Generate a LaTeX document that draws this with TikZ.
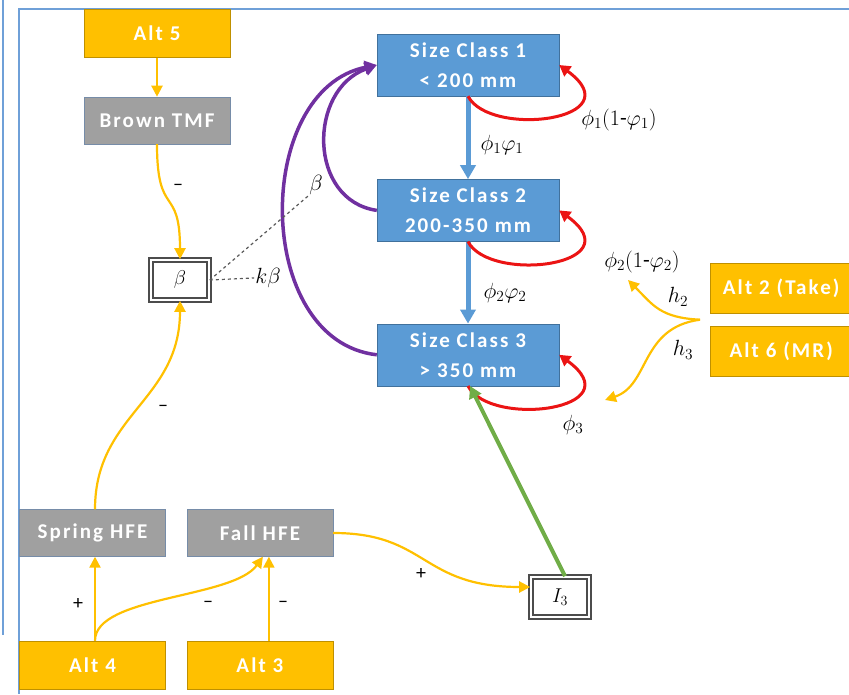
\RequirePackage{fix-cm}
\documentclass[tikz,border=0pt]{standalone}
\usepackage{fontspec}
\setmainfont{Carlito}
\newfontfamily\boxfam[LetterSpace=10]{Carlito}
\usetikzlibrary{positioning,arrows.meta,calc}
\definecolor{altfill}{RGB}{255,192,0}
\definecolor{altline}{RGB}{191,144,0}
\definecolor{tmffill}{RGB}{160,160,160}
\definecolor{tmfline}{RGB}{118,140,168}
\definecolor{scfill}{RGB}{91,155,213}
\definecolor{scline}{RGB}{65,113,156}
\definecolor{loopred}{RGB}{235,20,20}
\definecolor{recruit}{RGB}{112,48,160}
\definecolor{stock}{RGB}{112,173,71}
\definecolor{framec}{RGB}{111,160,216}
\tikzset{
  alt/.style={draw=altline, fill=altfill, text=white, font=\boxfam\bfseries\fontsize{21}{28}\selectfont, minimum width=146pt, minimum height=48pt, inner sep=0pt},
  hfe/.style={draw=tmfline, fill=tmffill, text=white, font=\boxfam\bfseries\fontsize{21}{28}\selectfont, minimum width=146pt, minimum height=47pt, inner sep=0pt},
  sizecls/.style={draw=scline, fill=scfill, text=white, font=\boxfam\bfseries\fontsize{21}{30}\selectfont, minimum width=182pt, minimum height=62pt, align=center, inner sep=0pt},
  param/.style={draw=black!70, line width=1.6pt, double, double distance=2.4pt, fill=white, minimum width=58pt, minimum height=40pt, font=\fontsize{20}{22}\selectfont},
  lab/.style={font=\fontsize{22}{24}\selectfont, inner sep=1pt},
  sgn/.style={font=\fontsize{20}{22}\selectfont, inner sep=1pt},
  yl/.style={altfill, line width=2.2pt, -{Triangle[length=11pt,width=11pt]}},
  growth/.style={scfill, line width=5pt, -{Triangle[length=14pt,width=15pt]}},
  stay/.style={loopred, line width=3pt, -{Triangle[length=11pt,width=12pt]}},
  rec/.style={recruit, line width=3.5pt, -{Triangle[length=12pt,width=13pt]}},
  stk/.style={stock, line width=4pt, -{Triangle[length=12pt,width=13pt]}},
  guide/.style={black!65, dashed, line width=1.2pt},
  framel/.style={framec, line width=2pt},
}
\begin{document}
\begin{tikzpicture}[x=1pt, y=1pt, node distance=39pt]
\useasboundingbox (0,0) rectangle (849,694);
\clip (0,0) rectangle (849,694);
% cadre
\draw[framel] (3,694) -- (3,59);
\draw[framel] (849,685) -- (19,685) -- (19,0);

% left column
\node[alt] (alt5) at (157,660.5) {Alt 5};
\node[hfe, below=of alt5] (brown) {Brown TMF};
\node[param] (beta) at (180,414) {$\beta$};
\node[hfe] (spring) at (92.5,161) {Spring HFE};
\node[hfe, right=21pt of spring] (fall) {Fall HFE};
\node[alt, below=84pt of spring] (alt4) {Alt 4};
\node[alt, below=84pt of fall] (alt3) {Alt 3};
\node[param] (i3) at (560,97) {$I_3$};

% size classes
\node[sizecls] (sc1) at (468,629) {Size Class 1\\< 200 mm};
\node[sizecls, below=83pt of sc1] (sc2) {Size Class 2\\200-350 mm};
\node[sizecls, below=82pt of sc2] (sc3) {Size Class 3\\> 350 mm};

% harvest
\node[alt, anchor=west, minimum width=142pt, minimum height=50pt] (alt2) at (710,406) {Alt 2 (Take)};
\node[alt, below=13pt of alt2, minimum width=142pt, minimum height=50pt] (alt6) {Alt 6 (MR)};
\coordinate (hsrc) at ($(alt2.south west)!0.5!(alt6.north west)+(-10,0)$);
\coordinate (h2end) at (628,414);
\coordinate (h3end) at (605,294);

% labels
\node[lab] (g1) at (502,549) {$\phi_1\varphi_1$};
\node[lab] (g2) at (505,401) {$\phi_2\varphi_2$};
\node[lab] (s1) at (619,574) {$\phi_1(1$-$\varphi_1)$};
\node[lab] (s2) at (642,432) {$\phi_2(1$-$\varphi_2)$};
\node[lab] (s3) at (573,269) {$\phi_3$};
\node[lab] (lh2) at (678,397) {$h_2$};
\node[lab] (lh3) at (683,344) {$h_3$};
\node[lab] (lb) at (316,509) {$\beta$};
\node[lab] (lkb) at (268,416) {$k\beta$};
\node[sgn] (m1) at (178,507) {--};
\node[sgn] (m2) at (163,286) {--};
\node[sgn] (p1) at (78,90) {+};
\node[sgn] (m3) at (208,90) {--};
\node[sgn] (m4) at (283,90) {--};
\node[sgn] (p2) at (421,120) {+};

% yellow links
\draw[yl] (alt5) -- (brown);
\draw[yl] (brown.south) .. controls +(0,-75) and +(0,75) .. (beta.north);
\draw[yl] ([xshift=2.5pt]spring.north) .. controls +(0,95) and +(0,-100) .. (beta.south);
\draw[yl] ([xshift=2.5pt]alt4.north) -- ([xshift=2.5pt]spring.south);
\draw[yl] ([xshift=2.5pt]alt4.north) .. controls +(0,45) and +(-30,-42) .. ([xshift=3pt]fall.south);
\draw[yl] ([xshift=9pt]alt3.north) -- ([xshift=9pt]fall.south);
\draw[yl] (fall.east) .. controls +(95,0) and +(-110,0) .. ([yshift=10pt]i3.west);
\draw[yl] (hsrc) .. controls +(-40,2) and +(25,-25) .. (h2end);
\draw[yl] (hsrc) .. controls +(-60,-8) and +(45,15) .. (h3end);

% growth and survival
\draw[growth] (sc1) -- (sc2);
\draw[growth] (sc2) -- (sc3);
\draw[stay] (sc1.south) .. controls +(22,-42) and +(75,-55) .. (sc1.east);
\draw[stay] (sc2.south) .. controls +(22,-42) and +(75,-55) .. (sc2.east);
\draw[stay] (sc3.south) .. controls +(22,-42) and +(75,-55) .. (sc3.east);

% recruitment
\draw[rec] (sc2.west) .. controls +(-69,10) and +(-69,-25) .. (sc1.west);
\draw[rec] (sc3.west) .. controls +(-124,14) and +(-124,-25) .. (sc1.west);
\draw[guide] (beta.east) -- (lb.south west);
\draw[guide] (beta.east) -- (lkb.west);

% stocking
\draw[stk] ([xshift=5pt]i3.north) -- ([xshift=2pt]sc3.south);
\end{tikzpicture}
\end{document}
